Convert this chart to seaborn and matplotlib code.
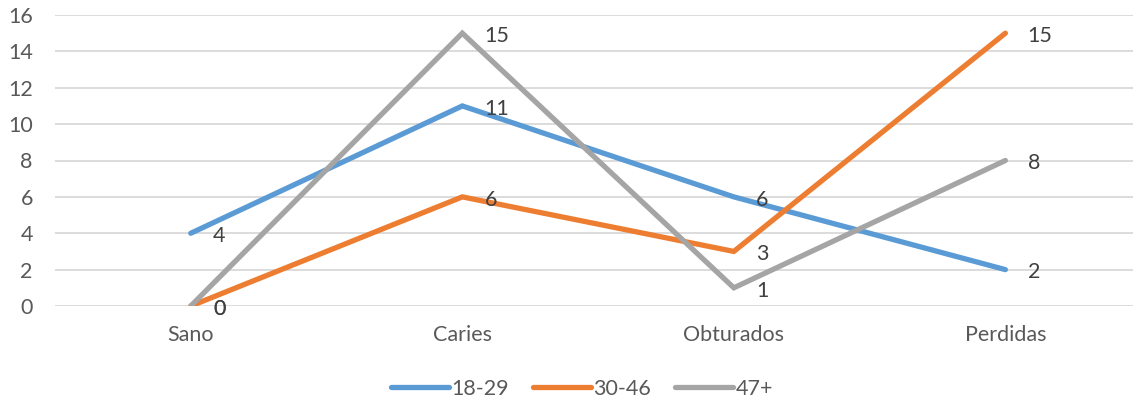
import matplotlib
matplotlib.use("Agg")
import matplotlib.pyplot as plt
import seaborn as sns
import pandas as pd

categories = ["Sano", "Caries", "Obturados", "Perdidas"]
series_names = ["18-29", "30-46", "47+"]
vals_18_29 = [4, 11, 6, 2]
vals_30_46 = [0, 6, 3, 15]
vals_47 = [0, 15, 1, 8]
colors = ["#5B9BD5", "#ED7D31", "#A5A5A5"]
yticks = [0, 2, 4, 6, 8, 10, 12, 14, 16]

sns.set_theme(style="white")
plt.rcParams['font.family'] = ['Lato', 'DejaVu Sans']
txt = "#595959"
fs = 15.5

rows = []
for name, vals in zip(series_names, [vals_18_29, vals_30_46, vals_47]):
    for i, (c, v) in enumerate(zip(categories, vals)):
        rows.append({"cat": c, "x": i, "val": v, "serie": name})
df = pd.DataFrame(rows)

fig = plt.figure(figsize=(11.33, 4.04), dpi=100)
ax = fig.add_axes([55/1133, 1 - 306/404, (1133-55)/1133, (306-15)/404])

sns.lineplot(data=df, x="x", y="val", hue="serie", palette=colors, ax=ax,
             linewidth=3.8, legend=False, sort=False)
for line in ax.get_lines():
    line.set_solid_capstyle("round")
    line.set_solid_joinstyle("miter")

for name, vals in zip(series_names, [vals_18_29, vals_30_46, vals_47]):
    for i, v in enumerate(vals):
        ax.annotate(str(v), xy=(i, v), xytext=(16, -2), textcoords="offset points",
                    ha="left", va="center", fontsize=fs, color="#404040")

ax.set_xlim(-0.5, 3.47)
ax.set_ylim(0, 16)
ax.set_yticks(yticks)
ax.set_xticks(range(len(categories)))
ax.set_xticklabels(categories)
ax.set_xlabel("")
ax.set_ylabel("")
ax.grid(axis="y", color="#D9D9D9", linewidth=1.3)
ax.set_axisbelow(True)
for s in ax.spines.values():
    s.set_visible(False)
ax.tick_params(axis="y", length=0, pad=16, labelsize=fs, labelcolor=txt)
ax.tick_params(axis="x", length=0, pad=14, labelsize=fs, labelcolor=txt)

from matplotlib.lines import Line2D
handles = [Line2D([0], [0], color=c, linewidth=3.8, solid_capstyle="round") for c in colors]
fig.legend(handles, series_names, loc="center", bbox_to_anchor=(582/1133, 1 - 389/404),
           ncol=3, frameon=False, fontsize=fs, handlelength=2.7, handletextpad=0.12,
           columnspacing=1.1, labelcolor=txt)

fig.savefig("out.png", dpi=100)
